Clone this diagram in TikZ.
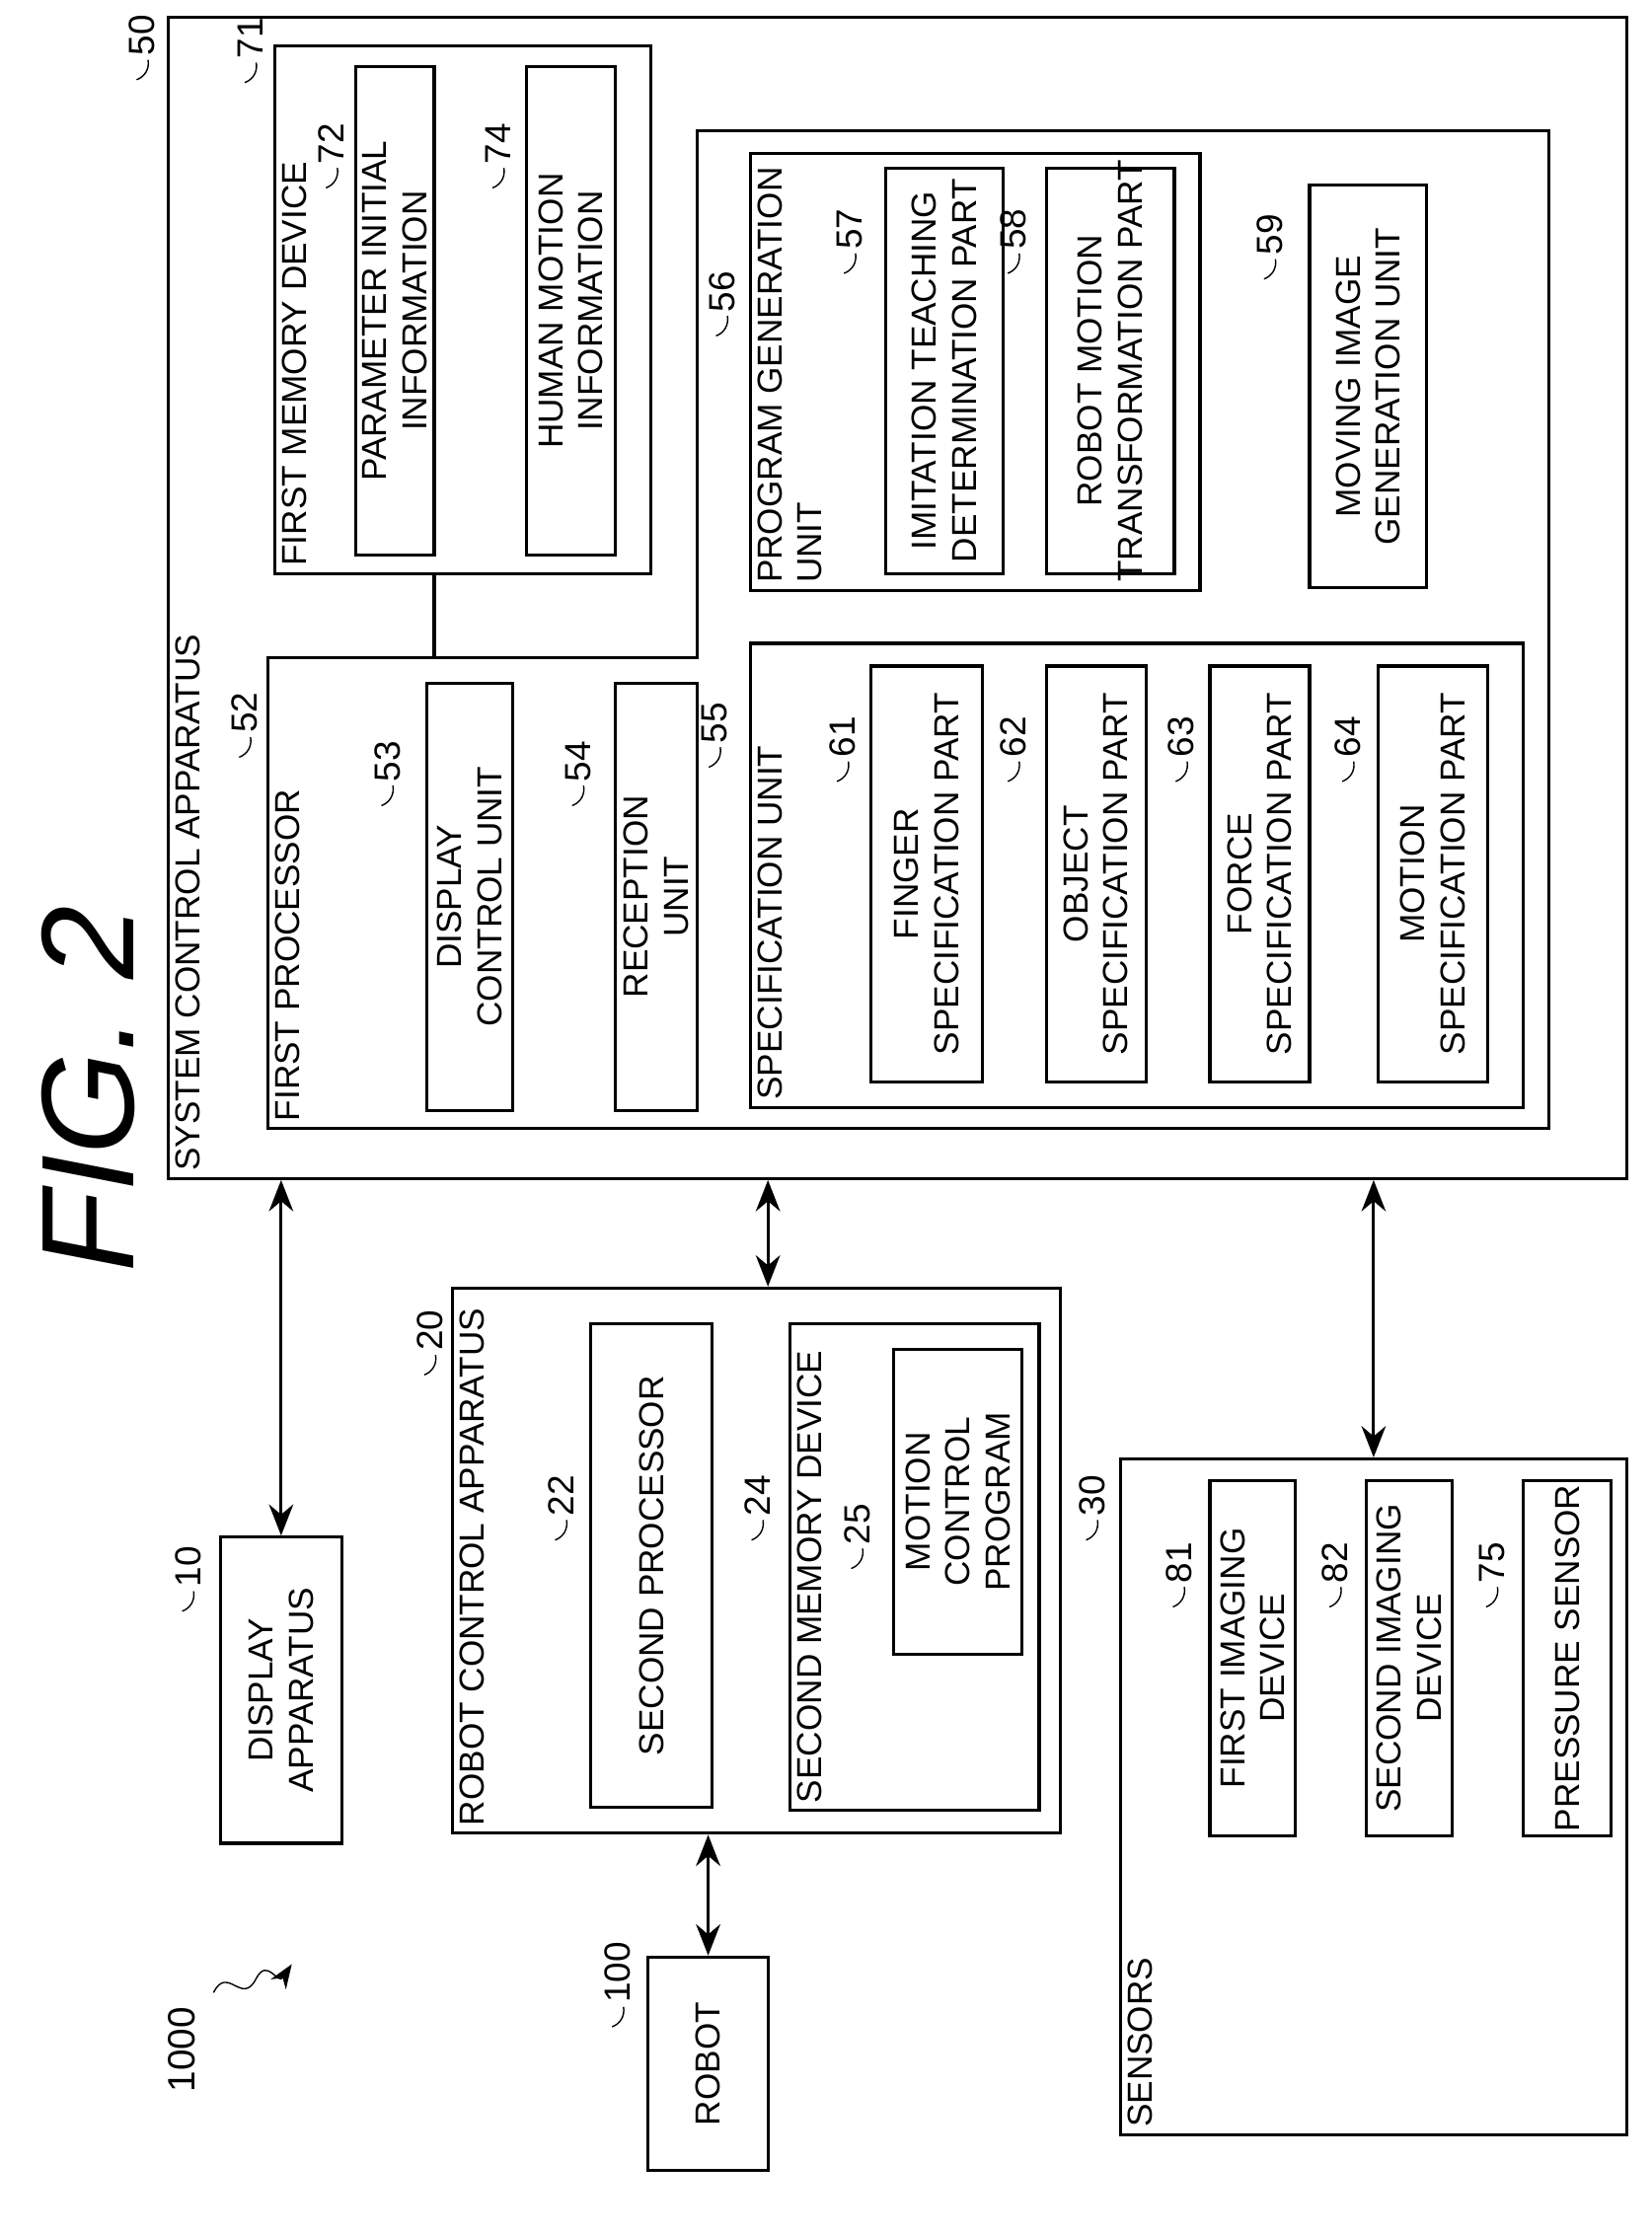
\documentclass[tikz,border=0pt]{standalone}
\usepackage{fontspec}
\setmainfont{Liberation Sans}
\usetikzlibrary{arrows.meta,fit}
% box with rotated text: name, x1, y1, x2, y2, text
\newcommand\blk[6]{%
  \node[box, fit={(#2,#3) (#4,#5)}] (#1) {};
  \node[txt] at (#1.center) {#6};}
% reference number with hook
\newcommand\refno[3]{%
  \node[num, anchor=west] at (#1,#2) {#3};
  \draw ({#1-4},{#2+14}) to[bend right=40] ({#1+4},{#2});}
\begin{document}
\begin{tikzpicture}[x=0.01442cm, y=-0.01442cm,
    box/.style={draw, line width=0.9pt, inner sep=0pt},
    txt/.style={rotate=90, align=center, font=\fontsize{10}{11.5}\selectfont},
    hd/.style={rotate=90, anchor=north west, inner sep=2pt, align=left, font=\fontsize{10}{11.5}\selectfont},
    num/.style={rotate=90, inner sep=1pt, font=\fontsize{10.5}{12}\selectfont},
    dbl/.style={{Stealth[length=9pt,width=7pt]}-{Stealth[length=9pt,width=7pt]}, line width=0.9pt}]
\useasboundingbox (0,0) rectangle (1160,1571);

\node[rotate=90, font=\fontsize{38}{40}\selectfont\itshape] (fig) at (62,765) {FIG. 2};

% system control apparatus
\blk{sys}{118}{12}{1143}{828}{}
\node[hd] at (118,828) {SYSTEM CONTROL APPARATUS};
\refno{100}{42}{50}

\blk{fm}{193}{32}{457}{403}{}
\node[hd] at (193,403) {FIRST MEMORY DEVICE};
\refno{176}{44}{71}
\blk{pii}{250}{47}{305}{390}{PARAMETER INITIAL\\INFORMATION}
\refno{233}{118}{72}
\blk{hmi}{370}{47}{432}{390}{HUMAN MOTION\\INFORMATION}
\refno{350}{118}{74}

% first processor
\draw[line width=0.9pt] (188,462) -- (490,462) -- (490,92) -- (1088,92) -- (1088,793) -- (188,793) -- cycle;
\coordinate (fp) at (305,462);
\draw[line width=0.9pt] (fm.south -| fp) -- (fp);
\node[hd] at (188,793) {FIRST PROCESSOR};
\refno{172}{518}{52}

\blk{dcu}{300}{480}{360}{780}{DISPLAY\\CONTROL UNIT}
\refno{272}{552}{53}
\blk{ru}{432}{480}{490}{780}{RECEPTION\\UNIT}
\refno{406}{552}{54}

\blk{spu}{527}{452}{1070}{778}{}
\node[hd] at (527,778) {SPECIFICATION UNIT};
\refno{502}{525}{55}
\blk{fsp}{612}{468}{690}{760}{FINGER\\SPECIFICATION PART}
\refno{592}{535}{61}
\blk{osp}{735}{468}{805}{760}{OBJECT\\SPECIFICATION PART}
\refno{712}{535}{62}
\blk{frp}{850}{468}{920}{760}{FORCE\\SPECIFICATION PART}
\refno{830}{535}{63}
\blk{msp}{968}{468}{1045}{760}{MOTION\\SPECIFICATION PART}
\refno{947}{535}{64}

\blk{pgu}{527}{108}{843}{415}{}
\node[hd] at (527,415) {PROGRAM GENERATION\\UNIT};
\refno{507}{222}{56}
\blk{itd}{622}{118}{705}{403}{IMITATION TEACHING\\DETERMINATION PART}
\refno{597}{178}{57}
\blk{rmt}{735}{118}{825}{403}{ROBOT MOTION\\TRANSFORMATION PART}
\refno{712}{178}{58}
\blk{mig}{920}{130}{1002}{413}{MOVING IMAGE\\GENERATION UNIT}
\refno{892}{182}{59}

% lower devices
\blk{disp}{155}{1080}{240}{1295}{DISPLAY\\APPARATUS}
\refno{132}{1118}{10}

\blk{rc}{318}{905}{745}{1288}{}
\node[hd] at (318,1288) {ROBOT CONTROL APPARATUS};
\refno{302}{952}{20}
\blk{sp}{415}{930}{500}{1270}{SECOND PROCESSOR}
\refno{394}{1068}{22}
\blk{smd}{555}{930}{730}{1272}{}
\node[hd] at (555,1272) {SECOND MEMORY DEVICE};
\refno{532}{1068}{24}
\blk{mcp}{628}{948}{718}{1162}{MOTION\\CONTROL\\PROGRAM}
\refno{602}{1088}{25}

\blk{sen}{787}{1025}{1143}{1500}{}
\node[hd] at (787,1500) {SENSORS};
\refno{767}{1068}{30}
\blk{fid}{850}{1040}{910}{1290}{FIRST IMAGING\\DEVICE}
\refno{828}{1115}{81}
\blk{sid}{960}{1040}{1020}{1290}{SECOND IMAGING\\DEVICE}
\refno{938}{1115}{82}
\blk{ps}{1070}{1040}{1132}{1290}{PRESSURE SENSOR}
\refno{1048}{1115}{75}

\blk{rob}{455}{1375}{540}{1525}{ROBOT}
\refno{434}{1410}{100}

\node[num, font=\fontsize{11}{12}\selectfont] (sysno) at (128,1440) {1000};
\draw[-{Stealth[length=7pt]}] (150,1400) .. controls (160,1380) and (170,1410) .. (180,1390) .. controls (188,1375) and (195,1395) .. (205,1380);

% connections
\draw[dbl] (disp.north) -- (disp.north |- sys.south);
\path (rc.north) ++(8,0) coordinate (rcn);
\draw[dbl] (rcn) -- (rcn |- sys.south);
\path (sen.north) ++(0,0) coordinate (sn);
\draw[dbl] (sn) -- (sn |- sys.south);
\path (rob.north) ++(0,0) coordinate (rbn);
\draw[dbl] (rbn) -- (rbn |- rc.south);
\end{tikzpicture}
\end{document}
